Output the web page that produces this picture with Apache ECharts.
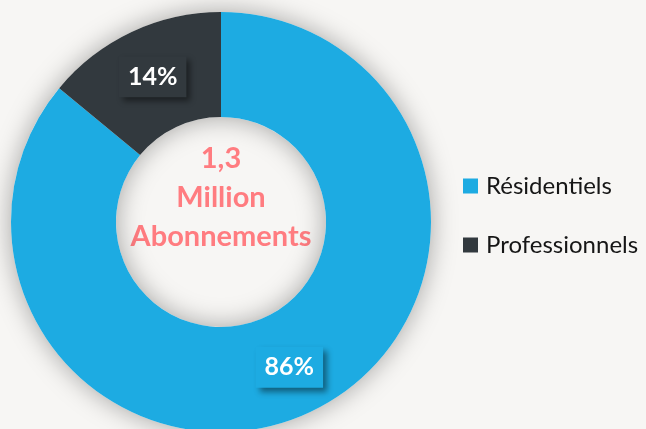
<!DOCTYPE html>
<html>
<head>
<meta charset="utf-8">
<title>Abonnements</title>
<script src="https://cdn.jsdelivr.net/npm/echarts/dist/echarts.min.js"></script>
<style>
  html, body { margin: 0; padding: 0; background: #f7f6f4; }
  #abonnementsChart { width: 646px; height: 429px; }
</style>
</head>
<body>
<div id="abonnementsChart"></div>
<script>
// données
var categories = ["Résidentiels", "Professionnels"];
var values = [86, 14];
var colors = ["#1dabe2", "#32393e"];
var centerLines = ["1,3", "Million", "Abonnements"];

var CX = 221, CY = 222;

var myChart = echarts.init(document.getElementById("abonnementsChart"));

var pieData = categories.map(function (name, i) {
  return {
    name: name,
    value: values[i],
    itemStyle: { color: colors[i] },
    label: { backgroundColor: colors[i] }
  };
});

var option = {
  backgroundColor: "#f7f6f4",
  color: colors,
  legend: {
    orient: "vertical",
    left: 463,
    top: 174,
    padding: 0,
    itemWidth: 15,
    itemHeight: 15,
    itemGap: 35,
    icon: "rect",
    data: categories,
    textStyle: {
      fontFamily: "Lato",
      fontSize: 24,
      lineHeight: 24,
      color: "#161616",
      padding: [0, 0, 0, 3]
    }
  },
  graphic: [
    {
      type: "text",
      x: CX,
      y: 198,
      silent: true,
      style: {
        text: centerLines.join("\n"),
        align: "center",
        verticalAlign: "middle",
        fontFamily: "Lato",
        fontWeight: "bold",
        fontSize: 29,
        lineHeight: 39,
        fill: "#ff7c80"
      }
    }
  ],
  series: [
    {
      // anneau d'ombre sous le graphique
      type: "pie",
      silent: true,
      center: [CX, CY],
      radius: [105, 210],
      label: { show: false },
      labelLine: { show: false },
      itemStyle: {
        color: "#f7f6f4",
        shadowBlur: 26,
        shadowColor: "rgba(0,0,0,0.34)"
      },
      data: [{ value: 1, name: "" }],
      z: 1
    },
    {
      name: "Abonnements",
      type: "pie",
      center: [CX, CY],
      radius: [105, 210],
      startAngle: 90,
      clockwise: true,
      avoidLabelOverlap: false,
      percentPrecision: 0,
      labelLine: { show: false },
      label: {
        show: true,
        position: "inside",
        formatter: "{d}%",
        fontFamily: "Lato",
        fontWeight: "bold",
        fontSize: 25,
        lineHeight: 25,
        color: "#ffffff",
        padding: [8, 9],
        shadowBlur: 6,
        shadowOffsetX: 4,
        shadowOffsetY: 4,
        shadowColor: "rgba(0,0,0,0.45)"
      },
      emphasis: { scale: false },
      data: pieData,
      z: 2
    }
  ]
};

myChart.setOption(option);
</script>
</body>
</html>
